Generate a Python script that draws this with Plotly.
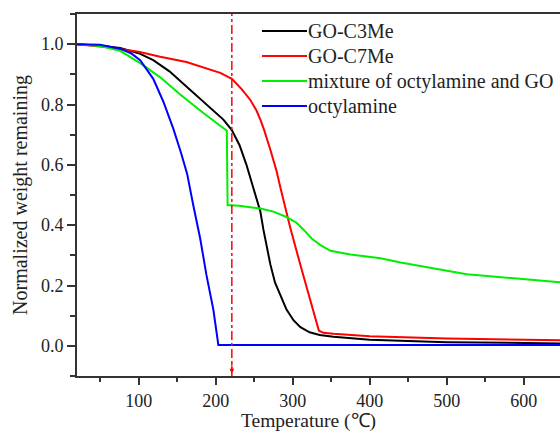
import plotly.graph_objects as go

# GO-C3Me
t_c3 = [20, 50, 76, 100, 119, 140, 162, 180, 197, 210, 221, 231, 240, 247, 253, 258, 262, 267, 271, 277, 284, 292, 301, 310, 322, 335, 353, 400, 500, 650]
w_c3 = [1.0, 0.995, 0.987, 0.97, 0.947, 0.91, 0.86, 0.82, 0.78, 0.75, 0.715, 0.665, 0.6, 0.54, 0.483, 0.445, 0.385, 0.32, 0.27, 0.21, 0.165, 0.12, 0.085, 0.062, 0.045, 0.036, 0.03, 0.02, 0.012, 0.008]

# GO-C7Me
t_c7 = [20, 60, 100, 128, 162, 206, 221, 234, 245, 253, 258, 263, 271, 279, 284, 297, 310, 322, 331, 334, 340, 353, 400, 500, 650]
w_c7 = [1.0, 0.99, 0.975, 0.958, 0.941, 0.905, 0.885, 0.85, 0.815, 0.78, 0.75, 0.715, 0.65, 0.58, 0.525, 0.39, 0.268, 0.155, 0.07, 0.05, 0.043, 0.04, 0.032, 0.024, 0.018]

# mixture of octylamine and GO
t_mix = [20, 50, 76, 102, 128, 154, 184, 214.5, 215.5, 230, 258, 275, 292, 305, 314, 325, 336, 349, 375, 414, 440, 526, 650]
w_mix = [1.0, 0.994, 0.978, 0.937, 0.89, 0.833, 0.772, 0.713, 0.467, 0.464, 0.455, 0.445, 0.427, 0.408, 0.385, 0.355, 0.334, 0.315, 0.303, 0.29, 0.276, 0.237, 0.21]

# octylamine
t_oct = [20, 50, 76, 90, 102, 119, 132, 145, 155, 163, 171, 180, 188, 197, 203.5, 650]
w_oct = [1.0, 0.998, 0.985, 0.97, 0.947, 0.885, 0.81, 0.72, 0.64, 0.57, 0.465, 0.355, 0.235, 0.12, 0.003, 0.003]

series_names = ["GO-C3Me", "GO-C7Me", "mixture of octylamine and GO", "octylamine"]
series_colors = ["#000000", "#ff0000", "#00ee00", "#0000ff"]

marker_T = 221

x_title = "Temperature (℃)"
y_title = "Normalized weight remaining"

FONT = "Liberation Serif, Times New Roman, serif"

W, H = 560, 434
ML, MR, MT, MB = 77, 0, 14, 58
PW, PH = W - ML - MR, H - MT - MB


def px_to_paper_x(px):
    return (px - ML) / PW


def py_to_paper_y(py):
    return 1 - (py - MT) / PH


fig = go.Figure()
for (t, w), name, col in zip([(t_c3, w_c3), (t_c7, w_c7), (t_mix, w_mix), (t_oct, w_oct)], series_names, series_colors):
    fig.add_trace(go.Scatter(x=t, y=w, mode="lines", name=name, showlegend=False,
                             line=dict(color=col, width=2)))

# legend drawn manually (line sample + text)
for i, (name, col) in enumerate(zip(series_names, series_colors)):
    yy = py_to_paper_y(31 + 25 * i)
    fig.add_shape(type="line", xref="paper", yref="paper",
                  x0=px_to_paper_x(262), x1=px_to_paper_x(307), y0=yy, y1=yy,
                  line=dict(color=col, width=2))
    fig.add_annotation(xref="paper", yref="paper", x=px_to_paper_x(307), y=yy,
                       xanchor="left", yanchor="middle", showarrow=False, text=name,
                       font=dict(size=20, color="#222"), xshift=-1)

fig.add_shape(type="line", xref="x", yref="paper", x0=marker_T, x1=marker_T, y0=0, y1=1,
              line=dict(color="red", width=1.5, dash="dashdot"))
fig.add_annotation(x=marker_T, y=-0.092, xref="x", yref="y", ax=0, ay=-12, showarrow=True,
                   arrowhead=2, arrowsize=0.8, arrowwidth=1.2, arrowcolor="red", text="")

# x axis title
fig.add_annotation(xref="paper", yref="paper", x=px_to_paper_x(308), y=py_to_paper_y(421),
                   xanchor="center", yanchor="middle", showarrow=False, text=x_title,
                   font=dict(size=19.5, color="#222"), borderpad=0)

fig.update_layout(
    width=W, height=H,
    margin=dict(l=ML, r=MR, t=MT, b=MB),
    paper_bgcolor="white", plot_bgcolor="white",
    font=dict(family=FONT, size=18, color="#222"),
    showlegend=False,
)
fig.update_xaxes(range=[20, 647], dtick=100, tick0=0, ticks="outside", ticklen=7, tickwidth=1.5,
                 tickcolor="#333", showline=True, linecolor="#333", linewidth=2, mirror=True,
                 showgrid=False, zeroline=False,
                 minor=dict(dtick=50, tick0=0, ticks="outside", ticklen=4, tickwidth=1.5, tickcolor="#333"))
fig.update_yaxes(range=[-0.1, 1.1], dtick=0.2, tick0=0, tickformat=".1f", ticks="outside", ticklen=8,
                 tickwidth=1.5, tickcolor="#333", showline=True, linecolor="#333", linewidth=2,
                 showgrid=False, zeroline=False,
                 minor=dict(dtick=0.1, tick0=0, ticks="outside", ticklen=5, tickwidth=1.5, tickcolor="#333"),
                 title=dict(text=y_title, font=dict(size=20), standoff=8))

fig.write_html("out.html")
